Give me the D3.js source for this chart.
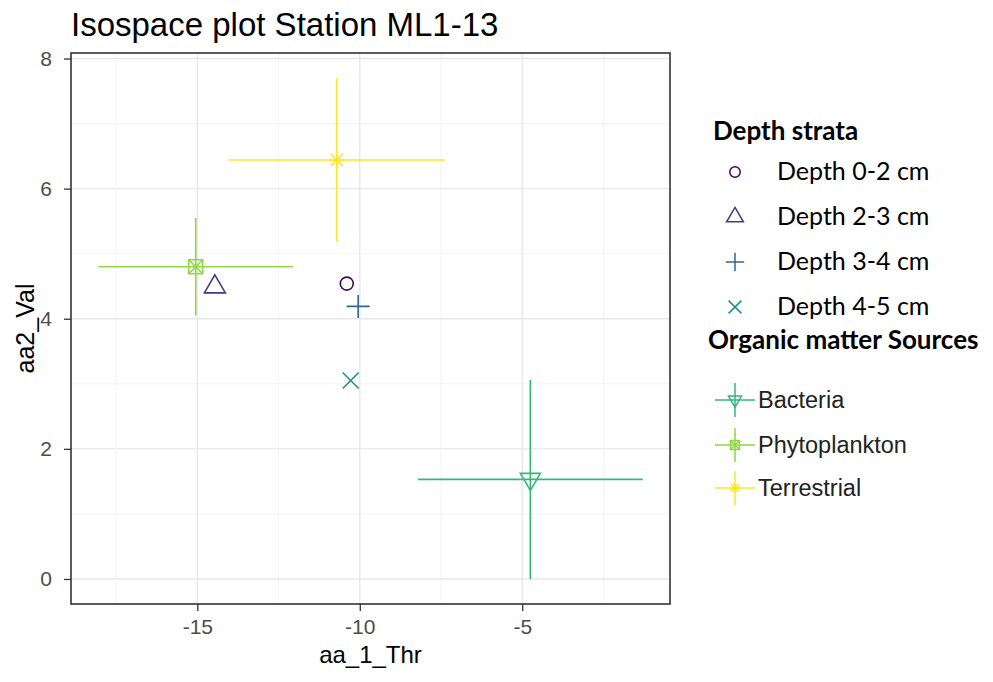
<!DOCTYPE html>
<html>
<head>
<meta charset="utf-8">
<script src="https://cdn.jsdelivr.net/npm/d3@7"></script>
<style>
  body { margin: 0; background: #fff; }
  svg { display: block; }
  .tick text { font-family: "Liberation Sans", Arial, sans-serif; font-size: 21px; fill: #4d4d4d; }
  .tick line { stroke: #333; stroke-width: 1.3px; }
</style>
</head>
<body>
<div id="chart"></div>
<script>
// depth strata (samples)
var depthLabels = ["Depth 0-2 cm", "Depth 2-3 cm", "Depth 3-4 cm", "Depth 4-5 cm"];
var depthX = [-10.40, -14.46, -10.05, -10.28];
var depthY = [4.54, 4.49, 4.19, 3.05];
var depthShapes = ["circle", "triangle", "plus", "cross"];

// organic matter sources (mean +- sd)
var sourceLabels = ["Bacteria", "Phytoplankton", "Terrestrial"];
var sourceX = [-4.75, -15.05, -10.71];
var sourceY = [1.53, 4.80, 6.44];
var sourceSdX = [3.46, 3.00, 3.33];
var sourceSdY = [1.53, 0.75, 1.26];
var sourceShapes = ["triangleDown", "squareCross", "asterisk"];

var xTicks = [-15, -10, -5];
var yTicks = [0, 2, 4, 6, 8];
var xMinor = [-17.5, -12.5, -7.5, -2.5];
var yMinor = [1, 3, 5, 7];

var colors = ["#440154", "#443A83", "#31688E", "#21908C", "#35B779", "#8FD744", "#FDE725"];

var svgWidth = 993;
var svgHeight = 682;
var panel = { left: 71, right: 670, top: 53, bottom: 604 };

var svg = d3.select("#chart")
  .append("svg")
  .attr("width", svgWidth)
  .attr("height", svgHeight);

// ggplot-like 5% expansion of the data range
function expand(lo, hi) {
  var pad = (hi - lo) * 0.05;
  return [lo - pad, hi + pad];
}
var xLo = d3.min(sourceX.map((v, i) => v - sourceSdX[i]).concat(depthX));
var xHi = d3.max(sourceX.map((v, i) => v + sourceSdX[i]).concat(depthX));
var yLo = d3.min(sourceY.map((v, i) => v - sourceSdY[i]).concat(depthY));
var yHi = d3.max(sourceY.map((v, i) => v + sourceSdY[i]).concat(depthY));

var x = d3.scaleLinear().domain(expand(xLo, xHi)).range([panel.left, panel.right]);
var y = d3.scaleLinear().domain(expand(yLo, yHi)).range([panel.bottom, panel.top]);

// symbol paths, centred on 0,0
function shapePath(shape, s) {
  var k = s || 1;
  switch (shape) {
    case "circle":
      return d3.symbol(d3.symbolCircle, Math.PI * 6.5 * 6.5 * k * k)();
    case "triangle":
      return `M0,${-12 * k}L${10.5 * k},${6 * k}L${-10.5 * k},${6 * k}Z`;
    case "triangleDown":
      return `M${-10 * k},${-6 * k}L${10 * k},${-6 * k}L0,${11 * k}Z`;
    case "plus":
      return `M${-11.5 * k},0H${11.5 * k}M0,${-11.5 * k}V${11.5 * k}`;
    case "cross":
      return `M${-8 * k},${-8 * k}L${8 * k},${8 * k}M${8 * k},${-8 * k}L${-8 * k},${8 * k}`;
    case "squareCross":
      return `M${-7 * k},${-7 * k}H${7 * k}V${7 * k}H${-7 * k}Z` +
        `M${-7 * k},${-7 * k}L${7 * k},${7 * k}M${7 * k},${-7 * k}L${-7 * k},${7 * k}`;
    case "asterisk":
      return `M${-8 * k},0H${8 * k}M0,${-8 * k}V${8 * k}` +
        `M${-6 * k},${-6 * k}L${6 * k},${6 * k}M${6 * k},${-6 * k}L${-6 * k},${6 * k}`;
  }
}

// grid
var grid = svg.append("g");
grid.selectAll(".minorx").data(xMinor).enter().append("line")
  .attr("x1", d => x(d)).attr("x2", d => x(d))
  .attr("y1", panel.top).attr("y2", panel.bottom)
  .attr("stroke", "#f0f0f0").attr("stroke-width", 0.8);
grid.selectAll(".minory").data(yMinor).enter().append("line")
  .attr("y1", d => y(d)).attr("y2", d => y(d))
  .attr("x1", panel.left).attr("x2", panel.right)
  .attr("stroke", "#f0f0f0").attr("stroke-width", 0.8);
grid.selectAll(".majorx").data(xTicks).enter().append("line")
  .attr("x1", d => x(d)).attr("x2", d => x(d))
  .attr("y1", panel.top).attr("y2", panel.bottom)
  .attr("stroke", "#e8e8e8").attr("stroke-width", 1.4);
grid.selectAll(".majory").data(yTicks).enter().append("line")
  .attr("y1", d => y(d)).attr("y2", d => y(d))
  .attr("x1", panel.left).attr("x2", panel.right)
  .attr("stroke", "#e8e8e8").attr("stroke-width", 1.4);

// error bars for sources
var bars = svg.append("g");
sourceLabels.forEach(function(lab, i) {
  bars.append("line")
    .attr("x1", x(sourceX[i] - sourceSdX[i])).attr("x2", x(sourceX[i] + sourceSdX[i]))
    .attr("y1", y(sourceY[i])).attr("y2", y(sourceY[i]))
    .attr("stroke", colors[4 + i]).attr("stroke-width", 1.6);
  bars.append("line")
    .attr("x1", x(sourceX[i])).attr("x2", x(sourceX[i]))
    .attr("y1", y(sourceY[i] - sourceSdY[i])).attr("y2", y(sourceY[i] + sourceSdY[i]))
    .attr("stroke", colors[4 + i]).attr("stroke-width", 1.6);
});

// source points
svg.append("g").selectAll("path")
  .data(sourceLabels)
  .enter()
  .append("path")
  .attr("transform", (d, i) => `translate(${x(sourceX[i])},${y(sourceY[i])})`)
  .attr("d", (d, i) => shapePath(sourceShapes[i]))
  .attr("fill", "none")
  .attr("stroke", (d, i) => colors[4 + i])
  .attr("stroke-width", 1.6);

// depth points
svg.append("g").selectAll("path")
  .data(depthLabels)
  .enter()
  .append("path")
  .attr("transform", (d, i) => `translate(${x(depthX[i])},${y(depthY[i])})`)
  .attr("d", (d, i) => shapePath(depthShapes[i]))
  .attr("fill", "none")
  .attr("stroke", (d, i) => colors[i])
  .attr("stroke-width", 1.6);

// panel border
svg.append("rect")
  .attr("x", panel.left).attr("y", panel.top)
  .attr("width", panel.right - panel.left).attr("height", panel.bottom - panel.top)
  .attr("fill", "none").attr("stroke", "#333").attr("stroke-width", 1.6);

// axes
var xAxis = svg.append("g")
  .attr("transform", `translate(0,${panel.bottom})`)
  .call(d3.axisBottom(x).tickValues(xTicks).tickSize(7).tickPadding(8));
xAxis.select(".domain").remove();

var yAxis = svg.append("g")
  .attr("transform", `translate(${panel.left},0)`)
  .call(d3.axisLeft(y).tickValues(yTicks).tickSize(7).tickPadding(12));
yAxis.select(".domain").remove();

// plain hyphen minus like R prints
xAxis.selectAll("text").text(d => String(d));

// titles
svg.append("text")
  .attr("x", panel.left).attr("y", 36)
  .attr("font-family", "Liberation Sans, Arial, sans-serif")
  .attr("font-size", 33)
  .attr("fill", "#000")
  .text("Isospace plot Station ML1-13");

svg.append("text")
  .attr("x", (panel.left + panel.right) / 2).attr("y", 663)
  .attr("text-anchor", "middle")
  .attr("font-family", "Liberation Sans, Arial, sans-serif")
  .attr("font-size", 24)
  .attr("fill", "#000")
  .text("aa_1_Thr");

svg.append("text")
  .attr("transform", `translate(34,${(panel.top + panel.bottom) / 2}) rotate(-90)`)
  .attr("text-anchor", "middle")
  .attr("font-family", "Liberation Sans, Arial, sans-serif")
  .attr("font-size", 25)
  .attr("fill", "#000")
  .text("aa2_Val");

// legend: depth strata
var legend = svg.append("g");
var depthRowY = [172, 217, 262, 307];

legend.append("text")
  .attr("x", 713).attr("y", 140)
  .attr("font-family", "Lato, sans-serif").attr("font-weight", "bold")
  .attr("font-size", 26).attr("fill", "#000")
  .text("Depth strata");

depthLabels.forEach(function(lab, i) {
  legend.append("path")
    .attr("transform", `translate(735,${depthRowY[i]})`)
    .attr("d", shapePath(depthShapes[i], 0.8))
    .attr("fill", "none")
    .attr("stroke", colors[i])
    .attr("stroke-width", 1.5);
  legend.append("text")
    .attr("x", 777).attr("y", depthRowY[i] + 8)
    .attr("font-family", "Lato, sans-serif")
    .attr("font-size", 25).attr("fill", "#000")
    .text(lab);
});

// legend: sources
legend.append("text")
  .attr("x", 708).attr("y", 349)
  .attr("font-family", "Lato, sans-serif").attr("font-weight", "bold")
  .attr("font-size", 26).attr("fill", "#000")
  .text("Organic matter Sources");

var sourceRowY = [400, 445, 488];
sourceLabels.forEach(function(lab, i) {
  var g = legend.append("g").attr("transform", `translate(735,${sourceRowY[i]})`);
  g.append("line").attr("x1", -20).attr("x2", 20)
    .attr("stroke", colors[4 + i]).attr("stroke-width", 1.5);
  g.append("line").attr("y1", -17).attr("y2", 17)
    .attr("stroke", colors[4 + i]).attr("stroke-width", 1.5);
  g.append("path")
    .attr("d", shapePath(sourceShapes[i], 0.65))
    .attr("fill", "none")
    .attr("stroke", colors[4 + i])
    .attr("stroke-width", 1.5);
  legend.append("text")
    .attr("x", 758).attr("y", sourceRowY[i] + 8)
    .attr("font-family", "Liberation Sans, Arial, sans-serif")
    .attr("font-size", 23.5).attr("fill", "#222")
    .text(lab);
});
</script>
</body>
</html>
